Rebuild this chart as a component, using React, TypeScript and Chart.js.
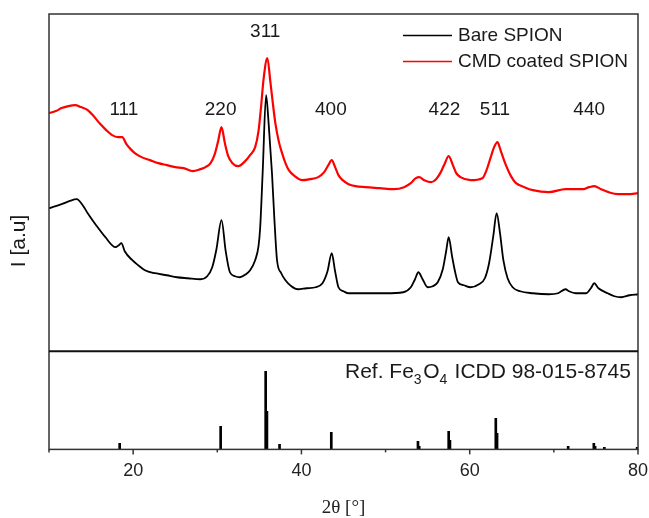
import React, { useEffect, useRef } from 'react';
import { Chart, registerables } from 'chart.js';
Chart.register(...registerables);

// Bare SPION diffractogram (2θ in degrees, intensity in a.u.)
const bareTheta = [10.0, 10.8, 11.5, 12.4, 13.3, 14.0, 14.6, 15.6, 16.7, 17.9, 18.3, 18.6, 19.0, 19.9, 20.6, 21.4, 22.6, 24.0, 25.2, 26.5, 28.0, 28.8, 29.4, 29.9, 30.5, 31.0, 31.5, 32.1, 32.7, 33.4, 33.9, 34.5, 34.9, 35.1, 35.4, 35.8, 36.1, 36.5, 36.8, 37.1, 37.6, 38.1, 38.8, 39.6, 40.6, 41.7, 42.5, 43.1, 43.6, 44.0, 44.4, 45.0, 45.6, 47.6, 50.0, 52.1, 53.0, 53.5, 53.9, 54.4, 55.0, 55.6, 56.2, 56.8, 57.2, 57.5, 57.9, 58.3, 58.6, 59.3, 60.1, 61.1, 61.8, 62.3, 62.8, 63.2, 63.6, 64.0, 64.5, 65.1, 66.0, 67.5, 69.4, 70.5, 71.4, 71.8, 72.6, 73.8, 74.4, 74.8, 75.3, 76.4, 77.2, 78.0, 79.0, 80.0];
const bareInt = [143, 145, 147, 150, 152, 146, 138, 126, 114, 104, 106, 108, 100, 91, 86, 81, 78, 76, 74, 73, 72, 75, 84, 102, 131, 100, 79, 75, 74, 77, 81, 91, 105, 124, 180, 256, 228, 178, 130, 91, 78, 71, 65, 62, 63, 64, 68, 80, 98, 80, 64, 60, 58, 58, 58, 59, 64, 72, 79, 72, 64, 65, 69, 82, 100, 114, 95, 78, 69, 66, 64, 67, 73, 88, 115, 138, 118, 91, 73, 64, 60, 58, 57, 58, 62, 60, 58, 58, 63, 68, 63, 58, 55, 54, 56, 57];

// CMD coated SPION diffractogram
const cmdTheta = [10.0, 10.8, 11.5, 12.3, 13.1, 13.8, 14.6, 15.3, 16.1, 16.8, 17.5, 18.2, 18.7, 19.2, 19.7, 20.2, 21.0, 22.0, 23.0, 24.0, 25.0, 26.0, 27.1, 28.0, 28.6, 29.2, 29.7, 30.1, 30.5, 30.9, 31.3, 31.8, 32.5, 33.2, 33.9, 34.5, 34.9, 35.2, 35.5, 35.95, 36.3, 36.6, 36.9, 37.3, 37.7, 38.1, 38.5, 39.2, 40.1, 41.0, 42.0, 42.7, 43.2, 43.6, 44.0, 44.4, 44.9, 45.6, 46.4, 47.6, 49.3, 51.0, 52.2, 53.0, 53.6, 54.0, 54.6, 55.4, 56.0, 56.5, 57.0, 57.5, 58.0, 58.4, 58.9, 60.1, 61.5, 62.0, 62.5, 62.9, 63.3, 63.7, 64.3, 64.9, 65.5, 66.5, 67.5, 69.4, 71.4, 72.5, 73.5, 74.2, 74.8, 75.6, 76.5, 77.6, 78.8, 80.0];
const cmdInt = [238, 240, 243, 245, 246, 244, 241, 235, 227, 221, 216, 214, 214, 207, 202, 198, 194, 191, 188, 186, 184, 183, 180, 182, 184, 188, 197, 210, 224, 208, 195, 188, 185, 189, 196, 204, 220, 244, 272, 293, 270, 248, 228, 210, 198, 188, 181, 175, 171, 172, 174, 179, 186, 191, 184, 176, 171, 167, 165, 164, 163, 162, 164, 168, 173, 174, 171, 169, 172, 178, 187, 195, 186, 178, 174, 171, 173, 181, 194, 204, 209, 200, 186, 175, 168, 164, 161, 159, 162, 162, 162, 164, 165, 162, 159, 157, 157, 158];

// Reference Fe3O4 stick pattern (ICDD 98-015-8745)
const refTheta = [18.4, 30.4, 35.75, 35.9, 37.4, 43.55, 53.85, 54.0, 57.5, 57.65, 63.1, 63.25, 71.7, 74.75, 74.9, 76.0, 79.9];
const refInt = [6, 23, 78, 38, 5, 17, 8, 3, 18, 9, 31, 16, 3, 6, 3, 2, 2];

// Miller index labels
const peakLabels = ['111', '220', '311', '400', '422', '511', '440'];
const peakLabelTheta = [18.9, 30.4, 35.7, 43.5, 57.0, 63.0, 74.2];
const peakLabelLevel = [241, 241, 319, 241, 241, 241, 241];

const seriesNames = ['Bare SPION', 'CMD coated SPION'];
const seriesColors = ['#000000', '#ff0000'];
const xTickValues = [10, 20, 30, 40, 50, 60, 70, 80];
const xTitle = '2θ [°]';
const yTitle = 'I [a.u]';

const SANS = '"Liberation Sans", Arial, sans-serif';

const overlay = {
  id: 'overlay',
  afterDatasetsDraw(chart: any) {
    const { ctx, chartArea: ca, scales } = chart;
    const x = scales.x, yT = scales.yTop;
    ctx.save();
    // frame
    ctx.strokeStyle = '#333';
    ctx.lineWidth = 1.5;
    ctx.strokeRect(ca.left, ca.top, ca.right - ca.left, ca.bottom - ca.top);
    // divider between panels
    ctx.strokeStyle = '#111';
    ctx.lineWidth = 2;
    ctx.beginPath();
    ctx.moveTo(ca.left, yT.bottom);
    ctx.lineTo(ca.right, yT.bottom);
    ctx.stroke();
    // x tick marks (major labelled, minor shorter)
    ctx.strokeStyle = '#333';
    ctx.lineWidth = 1.5;
    x.ticks.forEach((t: any) => {
      const px = x.getPixelForValue(t.value);
      const len = t.value % 20 === 0 ? 5 : 3;
      ctx.beginPath();
      ctx.moveTo(px, ca.bottom);
      ctx.lineTo(px, ca.bottom + len);
      ctx.stroke();
    });
    // peak labels
    ctx.fillStyle = '#1a1a1a';
    ctx.font = '19px ' + SANS;
    ctx.textAlign = 'center';
    ctx.textBaseline = 'middle';
    peakLabels.forEach((t, i) => {
      ctx.fillText(t, x.getPixelForValue(peakLabelTheta[i]), yT.getPixelForValue(peakLabelLevel[i]));
    });
    // legend
    ctx.textAlign = 'left';
    const lx0 = 403, lx1 = 452, tx = 458;
    [35, 61].forEach((ly, i) => {
      ctx.strokeStyle = seriesColors[i];
      ctx.lineWidth = 1.3;
      ctx.beginPath();
      ctx.moveTo(lx0, ly + 0.5);
      ctx.lineTo(lx1, ly + 0.5);
      ctx.stroke();
      ctx.fillStyle = '#1a1a1a';
      ctx.fillText(seriesNames[i], tx, ly + 1);
    });
    // reference label with subscripts
    const parts: [string, boolean][] = [['Ref. Fe', false], ['3', true], ['O', false], ['4', true], [' ICDD 98-015-8745', false]];
    let cx = 345;
    const base = 378;
    ctx.textBaseline = 'alphabetic';
    parts.forEach(([s, sub]) => {
      ctx.font = (sub ? '14px ' : '21px ') + SANS;
      ctx.fillText(s, cx, sub ? base + 6 : base);
      cx += ctx.measureText(s).width + (sub ? 1.5 : 0);
    });
    // y title
    ctx.save();
    ctx.translate(19, 241);
    ctx.rotate(-Math.PI / 2);
    ctx.font = '21px ' + SANS;
    ctx.textAlign = 'center';
    ctx.textBaseline = 'middle';
    ctx.fillText(yTitle, 0, 0);
    ctx.restore();
    ctx.restore();
  },
};

export default function App() {
  const ref = useRef<HTMLCanvasElement>(null);
  useEffect(() => {
    if (!ref.current) return;
    const chart = new Chart(ref.current, {
      type: 'scatter',
      data: {
        datasets: [
          {
            type: 'line',
            label: seriesNames[0],
            data: bareTheta.map((t, i) => ({ x: t, y: bareInt[i] })),
            borderColor: seriesColors[0],
            borderWidth: 1.8,
            pointRadius: 0,
            cubicInterpolationMode: 'monotone',
            yAxisID: 'yTop',
          },
          {
            type: 'line',
            label: seriesNames[1],
            data: cmdTheta.map((t, i) => ({ x: t, y: cmdInt[i] })),
            borderColor: seriesColors[1],
            borderWidth: 2.2,
            pointRadius: 0,
            cubicInterpolationMode: 'monotone',
            yAxisID: 'yTop',
          },
          {
            type: 'bar',
            label: 'Ref',
            data: refTheta.map((t, i) => ({ x: t, y: refInt[i] })),
            backgroundColor: '#000',
            barThickness: 2,
            yAxisID: 'yBot',
          } as any,
        ],
      },
      options: {
        animation: false,
        responsive: false,
        devicePixelRatio: 1,
        events: [],
        layout: { padding: { left: 49, right: 11, top: 14, bottom: 0 } },
        plugins: { legend: { display: false }, tooltip: { enabled: false } },
        scales: {
          x: {
            type: 'linear',
            min: 10,
            max: 80,
            offset: false,
            afterBuildTicks: (s: any) => { s.ticks = xTickValues.map((v) => ({ value: v })); },
            afterFit: (s: any) => { s.paddingLeft = 0; s.paddingRight = 0; },
            ticks: {
              callback: (v: any) => (Number(v) % 20 === 0 ? String(v) : ''),
              font: { family: SANS, size: 18 },
              color: '#222',
              padding: 11,
              maxRotation: 0,
              autoSkip: false,
            },
            grid: { display: false, drawTicks: false },
            border: { display: false },
            title: { display: true, text: xTitle, font: { family: '"Liberation Serif", serif', size: 19, lineHeight: 1 }, color: '#222', padding: { top: 6, bottom: 0 } },
          },
          yBot: {
            type: 'linear',
            position: 'left',
            stack: 'panels',
            stackWeight: 98,
            min: 0,
            max: 98,
            ticks: { display: false },
            grid: { display: false, drawTicks: false },
            border: { display: false },
          },
          yTop: {
            type: 'linear',
            position: 'left',
            stack: 'panels',
            stackWeight: 337,
            min: 0,
            max: 337,
            ticks: { display: false },
            grid: { display: false, drawTicks: false },
            border: { display: false },
          },
        },
      } as any,
      plugins: [overlay],
    });
    return () => chart.destroy();
  }, []);
  return (
    <div style={{ position: 'absolute', left: 0, top: 0, width: 649, height: 518 }}>
      <canvas ref={ref} width={649} height={518} />
    </div>
  );
}
